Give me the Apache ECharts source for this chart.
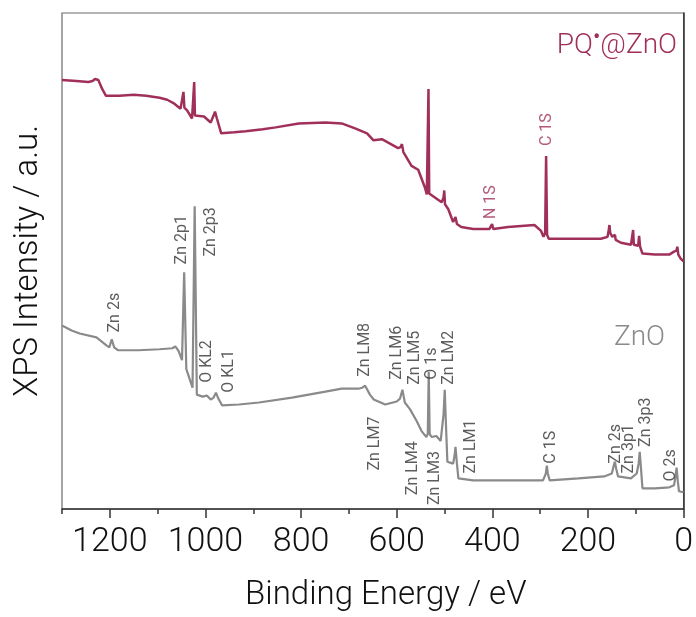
<!DOCTYPE html>
<html><head><meta charset="utf-8">
<script src="https://cdn.jsdelivr.net/npm/echarts@6/dist/echarts.min.js"></script>
<style>html,body{margin:0;padding:0;background:#fff}#c{width:696px;height:617px}</style>
</head><body><div id="c"></div>
<script>
// ---- data (binding energy in eV, intensity in arbitrary units) ----
const energyPQ = [1300,1270,1245,1236,1231,1228,1224,1216,1208,1180,1150,1124,1096,1080,1065,1052,1048,1046,1044,1038,1028,1025,1023.5,1022,1019,1003,996,989,983,980,976,967,940,916,880,853,805,749,715,687,662,649,631,597,592,589,586,569,555,541,537,535,533.5,532,529,506,502,500.5,499,492,482,479,477,474,465,440,406,403,400.5,398,367,312,298,293,289.5,287.5,285.5,282,240,200,173,159,156.5,155,153.5,149,145,143.5,142,131,110,107,105.5,104,100,95,93,91,86,60,30,20,15,13,11,6,0];
const intensityPQ = [435,434,433,434,436,438,435,426,419,419,420,419,417,415,411,406,407,423,407,404,396,398,433,399,397,398,395,392,399,403,396,381,382,383,385,387,391,392,391,386,381,374,375,366,367,370,362,348,344,326,319,321,426,320,319,311,316,323,309,304,291,292,296,289,286,284,284,285,289,284,286,288,282,276,280,358,278,274,274,274,274,276,283,288,280,276,276,278,273,270,268,270,283,268,266,267,277,266,259,258,258,261,262,266,258,254,251];

const energyZnO = [1300,1280,1263,1228,1207,1201,1196,1191,1183,1140,1096,1069,1063,1056,1049,1044.5,1040,1038,1027,1022.5,1018,1006,997,989,983,978,973,965,930,888,819,749,715,680,672,666,662,656,648,624,600,593,588,583,572,558,548,538,535,533,531,527,517,508,502,499.5,497,494,482,479,477,474,471,440,380,294,288,286,284,280,220,166,150,146,143.7,141,137,110,98,94,91.7,89,86,60,30,20,16.5,14.6,12,9.6,0];
const intensityZnO = [186,181,178,174,166,164,172,164,161,161,162,163,165,160,151,240,142,139,123,307,116,114,115,111,113,118,112,105,106,108,113,119,122,122,123,125,123,116,111,106,109,112,121,108,101,89,79,73,76,139,76,73,74,69,96,121,86,48,46,54,63,46,31,29,29,29,36,44,36,29,31,33,36,44,48,41,33,31,36,46,58,41,21,21,22,24,34,42,28,18,17];

// peak annotations
const peakNamesZnO = ['Zn 2s','Zn 2p1','Zn 2p3','O KL2','O KL1','Zn LM8','Zn LM7','Zn LM6','Zn LM5','O 1s','Zn LM2','Zn LM4','Zn LM3','Zn LM1','C 1S','Zn 2s','Zn 3p1','Zn 3p3','O 2s'];
const peakEnergyZnO = [1190,1048,989,996,951,666,645,600,562,526,491,565,520,444,277,142,114,79,27];
const peakLevelZnO = [179,248,256,128,118,134,39,131,126,131,126,14,4,36,46,46,36,63,28];

const peakNamesPQ = ['N 1S','C 1S'];
const peakEnergyPQ = [402,286];
const peakLevelPQ = [294,368];

const majorTicks = [0,200,400,600,800,1000,1200];
const minorTicks = [100,300,500,700,900,1100,1300];

const seriesNamePQ = 'PQ{s|•}@ZnO';
const seriesNameZnO = 'ZnO';

// ---- chart ----
const PQ_COLOR = '#a0305a';
const ZNO_COLOR = '#8a8a8a';
const FONT = 'Roboto';
const pairs = (e, v) => e.map((x, i) => [x, v[i]]);
const labelData = (n, e, v) => n.map((name, i) => ({ name, value: [e[i], v[i]] }));

const chart = echarts.init(document.getElementById('c'), null, { renderer: 'canvas' });

const xCommon = { type: 'value', min: 0, max: 1300, inverse: true, gridIndex: 0, splitLine: { show: false } };

const labelSeries = (names, e, v, color) => ({
  type: 'scatter', data: labelData(names, e, v), symbol: 'circle', symbolSize: 1,
  itemStyle: { color: 'rgba(0,0,0,0)' }, silent: true, z: 5,
  labelLayout: { hideOverlap: false },
  label: { show: true, formatter: '{b}', position: 'inside', rotate: 90, align: 'left', verticalAlign: 'middle',
    fontFamily: FONT, fontWeight: 400, fontSize: 16, color: color }
});

chart.setOption({
  animation: false,
  grid: { left: 62, right: 10, top: 13, bottom: 101, show: true, borderColor: '#6a6a6a', borderWidth: 1.2 },
  xAxis: [
    Object.assign({}, xCommon, {
      name: 'Binding Energy / eV', nameLocation: 'middle', nameGap: 70,
      nameTextStyle: { fontFamily: FONT, fontWeight: 300, fontSize: 33, color: '#111', padding: [0, 0, 0, 26] },
      axisLine: { show: true, lineStyle: { color: '#333', width: 1.5 } },
      axisTick: { show: true, length: 9, customValues: majorTicks, lineStyle: { color: '#333', width: 1.5 } },
      axisLabel: { customValues: majorTicks, margin: 16, fontFamily: FONT, fontWeight: 300, fontSize: 34, color: '#111',
        formatter: v => String(v) }
    }),
    Object.assign({}, xCommon, {
      position: 'bottom',
      axisLine: { show: false },
      axisTick: { show: true, length: 5, customValues: minorTicks, lineStyle: { color: '#333', width: 1.5 } },
      axisLabel: { show: false }
    })
  ],
  yAxis: {
    type: 'value', min: 0, max: 503,
    name: 'XPS Intensity / a.u.', nameLocation: 'middle', nameGap: 17,
    nameTextStyle: { fontFamily: FONT, fontWeight: 300, fontSize: 33, color: '#111' },
    axisLine: { show: true, lineStyle: { color: '#333', width: 1.5 } },
    axisTick: { show: false }, axisLabel: { show: false }, splitLine: { show: false }
  },
  graphic: [
    { type: 'text', x: 677, y: 46, silent: true,
      style: { text: seriesNamePQ, align: 'right', verticalAlign: 'middle', fill: PQ_COLOR,
        font: '300 28px Roboto',
        rich: { s: { fontSize: 22, fontFamily: FONT, fill: PQ_COLOR, padding: [0, 0, 16, 0] } } } },
    { type: 'text', x: 665, y: 338, silent: true,
      style: { text: seriesNameZnO, align: 'right', verticalAlign: 'middle', fill: ZNO_COLOR, font: '300 28px Roboto' } }
  ],
  series: [
    { type: 'line', name: 'PQ@ZnO', data: pairs(energyPQ, intensityPQ), showSymbol: false, symbol: 'none',
      lineStyle: { color: PQ_COLOR, width: 2.5 }, z: 3 },
    { type: 'line', name: 'ZnO', data: pairs(energyZnO, intensityZnO), showSymbol: false, symbol: 'none',
      lineStyle: { color: ZNO_COLOR, width: 2.2 }, z: 3 },
    labelSeries(peakNamesZnO, peakEnergyZnO, peakLevelZnO, '#333'),
    labelSeries(peakNamesPQ, peakEnergyPQ, peakLevelPQ, PQ_COLOR)
  ]
});
</script>
</body></html>
